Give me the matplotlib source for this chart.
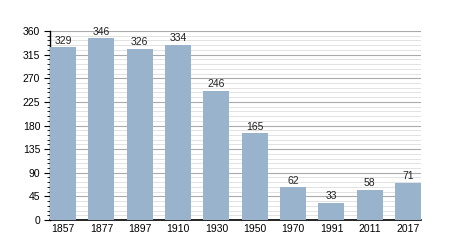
import numpy as np
import matplotlib.pyplot as plt
from matplotlib.ticker import MultipleLocator

years = ['1857', '1877', '1897', '1910', '1930', '1950', '1970', '1991', '2011', '2017']
population = [329, 346, 326, 334, 246, 165, 62, 33, 58, 71]

bar_color = '#99b3cc'

plt.rcParams['font.family'] = ['Liberation Sans', 'DejaVu Sans']

fig = plt.figure(figsize=(4.5, 2.5), dpi=100)
ax = fig.add_axes([0.111, 0.12, 0.825, 0.756])

x = np.arange(len(years))
width = 0.68
ax.bar(x, population, width=width, color=bar_color, zorder=3)

for xi, v in zip(x, population):
    ax.text(xi, v + 3, str(v), ha='center', va='bottom', fontsize=7.5, color='#222222', zorder=4)

ax.set_xlim(-width / 2, len(years) - 1 + width / 2)
ax.set_ylim(0, 360)
ax.yaxis.set_major_locator(MultipleLocator(45))
ax.yaxis.set_minor_locator(MultipleLocator(9))
ax.set_xticks(x)
ax.set_xticklabels(years)

# grid: darker majors, faint minors
ax.grid(axis='y', which='major', color='#aaaaaa', linewidth=0.8, zorder=0)
ax.grid(axis='y', which='minor', color='#dddddd', linewidth=0.6, zorder=0)
ax.set_axisbelow(True)

for side in ['top', 'right']:
    ax.spines[side].set_visible(False)
ax.spines['left'].set_linewidth(1.0)
ax.spines['bottom'].set_linewidth(1.2)

ax.tick_params(axis='y', which='major', length=4, width=0.8, labelsize=7.5, pad=3)
ax.tick_params(axis='y', which='minor', length=2, width=0.6)
ax.tick_params(axis='x', length=0, labelsize=7.5, pad=3)

fig.savefig('out.png', dpi=100)
